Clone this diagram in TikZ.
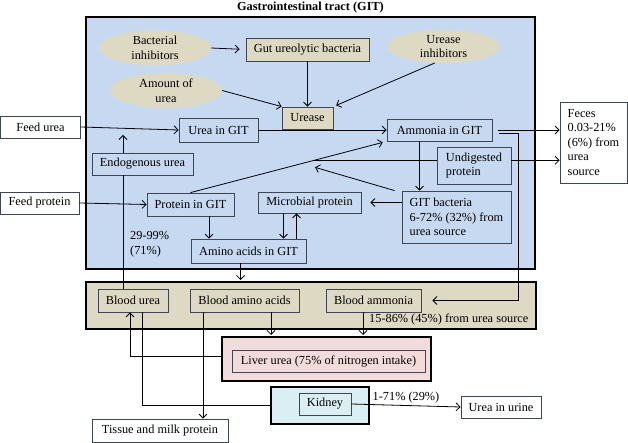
\documentclass[tikz,border=0pt]{standalone}
\usepackage{fontspec}
\setmainfont{Liberation Serif}
\usetikzlibrary{shapes.geometric,arrows.meta,positioning,calc}
\definecolor{gitblue}{RGB}{198,217,241}
\definecolor{tanfill}{RGB}{221,217,195}
\definecolor{liverpink}{RGB}{242,220,219}
\definecolor{kidneycyan}{RGB}{219,238,244}
\definecolor{edgegray}{RGB}{62,70,86}

\begin{document}
\begin{tikzpicture}[
  x=1pt, y=-1pt,
  font=\fontsize{12.3}{14.5}\selectfont,
  frame/.style={draw, line width=2pt, inner sep=0pt},
  box/.style={draw=edgegray, line width=0.8pt, inner sep=2pt, minimum height=22pt},
  gitnode/.style={box, fill=gitblue},
  tannode/.style={box, fill=tanfill},
  plain/.style={box, fill=white},
  oval/.style={ellipse, fill=tanfill, inner sep=0pt, align=center},
  arrow/.style={-{Straight Barb[length=4pt,width=8pt]}, line width=0.8pt},
  link/.style={line width=0.8pt}
]
  \useasboundingbox (0,0) rectangle (628,443);

  % frames
  \node[frame, fill=gitblue, minimum width=449pt, minimum height=252pt] (git) at (310.5,143) {};
  \node[frame, fill=tanfill, minimum width=450pt, minimum height=47pt] (blood) at (311,305.5) {};
  \node[frame, fill=liverpink, minimum width=209pt, minimum height=44pt] (liver) at (326.5,359) {};
  \node[frame, fill=kidneycyan, minimum width=98pt, minimum height=37pt] (kidney) at (320,405.5) {};
  \node[font=\fontsize{12.3}{14.5}\selectfont\bfseries, inner sep=0pt, above=3pt of git.north] (title) {Gastrointestinal tract (GIT)};

  % gastrointestinal tract
  \node[oval, minimum width=112pt, minimum height=35pt] (bactinh) at (155,48) {Bacterial\\inhibitors};
  \node[oval, minimum width=113pt, minimum height=33pt] (ureinh) at (443.5,46.5) {Urease\\inhibitors};
  \node[oval, minimum width=112pt, minimum height=35pt] (amount) at (166,90.5) {Amount of\\urea};
  \node[tannode, minimum width=123pt, minimum height=23pt] (gutbac) at (307.5,49.5) {Gut ureolytic bacteria};
  \node[tannode, minimum width=51pt] (urease) at (307.5,118) {Urease};
  \node[plain, minimum width=80pt] (feedurea) at (40.5,127) {Feed urea};
  \node[gitnode, minimum width=79pt, minimum height=24pt] (ureagit) at (218.5,130) {Urea in GIT};
  \node[gitnode, minimum width=105pt] (ammonia) at (439.5,130) {Ammonia in GIT};
  \node[plain, minimum width=67pt, minimum height=81pt, align=left] (feces) at (593.5,142.5) {Feces\\0.03-21\%\\(6\%) from\\urea\\source};
  \node[gitnode, minimum width=101pt] (endo) at (142.5,164) {Endogenous urea};
  \node[gitnode, minimum width=74pt, minimum height=37pt, align=left] (undig) at (474,165.5) {Undigested\\protein};
  \node[plain, minimum width=79pt] (feedprot) at (39.5,203) {Feed protein};
  \node[gitnode, minimum width=87pt, minimum height=23pt] (protgit) at (190.5,204.5) {Protein in GIT};
  \node[gitnode, minimum width=103pt, minimum height=21pt] (microb) at (309.5,202.5) {Microbial protein};
  \node[gitnode, minimum width=109pt, minimum height=52pt, align=left] (gitbac) at (456.5,217) {GIT bacteria\\6-72\% (32\%) from\\urea source};
  \node[gitnode, minimum width=115pt, minimum height=24pt] (amino) at (248.5,251) {Amino acids in GIT};
  \node[align=left, anchor=west, inner sep=0pt] (retain) at (130,244) {29-99\%\\(71\%)};

  % blood, liver, kidney
  \node[tannode, minimum width=70pt, minimum height=23pt] (bloodurea) at (133,300.5) {Blood urea};
  \node[tannode, minimum width=109pt, minimum height=23pt] (bloodaa) at (244.5,300.5) {Blood amino acids};
  \node[tannode, minimum width=95pt, minimum height=23pt] (bloodam) at (373.5,300.5) {Blood ammonia};
  \node[anchor=west, inner sep=0pt] (ammpct) at (369,319) {15-86\% (45\%) from urea source};
  \node[box, fill=liverpink, minimum width=193pt] (liverurea) at (328.5,361) {Liver urea (75\% of nitrogen intake)};
  \node[box, fill=kidneycyan, minimum width=52pt] (kidneyn) at (325,404) {Kidney};
  \node[plain, minimum width=80pt] (urine) at (501,407) {Urea in urine};
  \node[plain, minimum width=136pt, minimum height=23pt] (tissue) at (160,430.5) {Tissue and milk protein};

  % connectors in GIT
  \draw[arrow, shorten >=6pt] (bactinh.east) -- (gutbac.west);
  \draw[arrow] (gutbac.south) -- (urease.north);
  \draw[arrow] (amount.east) -- (urease.north west);
  \draw[arrow, shorten >=3pt] (ureinh.-118) -- (urease.north east);
  \draw[arrow] (feedurea.east) -- (ureagit.west);
  \draw[arrow] (ureagit.east) -- (ammonia.west);
  \coordinate (endotip) at (123,135);
  \draw[arrow] (endo.north -| endotip) -- (endotip);
  \draw[link] (bloodurea.north -| endotip) -- (endo.south -| endotip);
  \draw[arrow] (feedprot.east) -- (protgit.west);
  \coordinate (branch) at ($(protgit.north)!0.63!(ammonia.south west)$);
  \draw[arrow, shorten >=4pt] (protgit.north) -- (ammonia.south west);
  \draw[link] (branch) -- (branch -| undig.west);
  \draw[arrow] (branch -| undig.east) -- (branch -| feces.west);
  \draw[arrow] ([xshift=6pt]ammonia.east) -- (ammonia.east -| feces.west);
  \coordinate (ambend) at (518,133);
  \draw[arrow, shorten >=11pt] ($(ammonia.east)+(7,3)$) -- (ambend) |- (bloodam.east);
  \coordinate (amdrop) at ($(ammonia.south)+(-20,0)$);
  \draw[arrow] (amdrop) -- (amdrop |- gitbac.north);
  \draw[arrow, shorten >=9pt] (gitbac.west |- microb.east) -- (microb.east);
  \draw[arrow] ($(gitbac.north west)+(-7,0)$) -- ($(branch)+(1,7)$);
  \coordinate (mdown) at ($(microb.south)+(-26,0)$);
  \coordinate (mup) at ($(microb.south)+(-13,0)$);
  \draw[arrow] (mdown) -- (mdown |- amino.north);
  \draw[arrow] (mup |- amino.north) -- (mup);
  \coordinate (protdrop) at ($(protgit.south)+(18.5,0)$);
  \draw[arrow] (protdrop) -- (protdrop |- amino.north);
  \coordinate (aadrop) at ($(amino.south)+(-8,0)$);
  \draw[arrow, shorten >=1pt] (aadrop) -- (aadrop |- blood.north);

  % connectors below GIT
  \coordinate (tisdrop) at ($(bloodaa.south)+(-41.5,0)$);
  \draw[arrow] (tisdrop) -- (tisdrop |- tissue.north);
  \coordinate (livdrop) at ($(bloodaa.south)+(26.5,0)$);
  \draw[arrow, shorten >=1pt] (livdrop) -- (livdrop |- liver.north);
  \coordinate (amliv) at ($(bloodam.south)+(-10.5,0)$);
  \draw[arrow, shorten >=1pt] (amliv) -- (amliv |- liver.north);
  \coordinate (urrise) at ($(bloodurea.south)+(-3,0)$);
  \draw[arrow] ([yshift=3pt]liver.west) -| (urrise);
  \coordinate (kidrun) at ($(bloodurea.south)+(9,0)$);
  \draw[link] (kidrun) |- (kidney.west);
  \draw[arrow] (kidneyn.east) -- (urine.west) node[midway, above, inner sep=2pt] (urinepct) {1-71\% (29\%)};
\end{tikzpicture}
\end{document}
